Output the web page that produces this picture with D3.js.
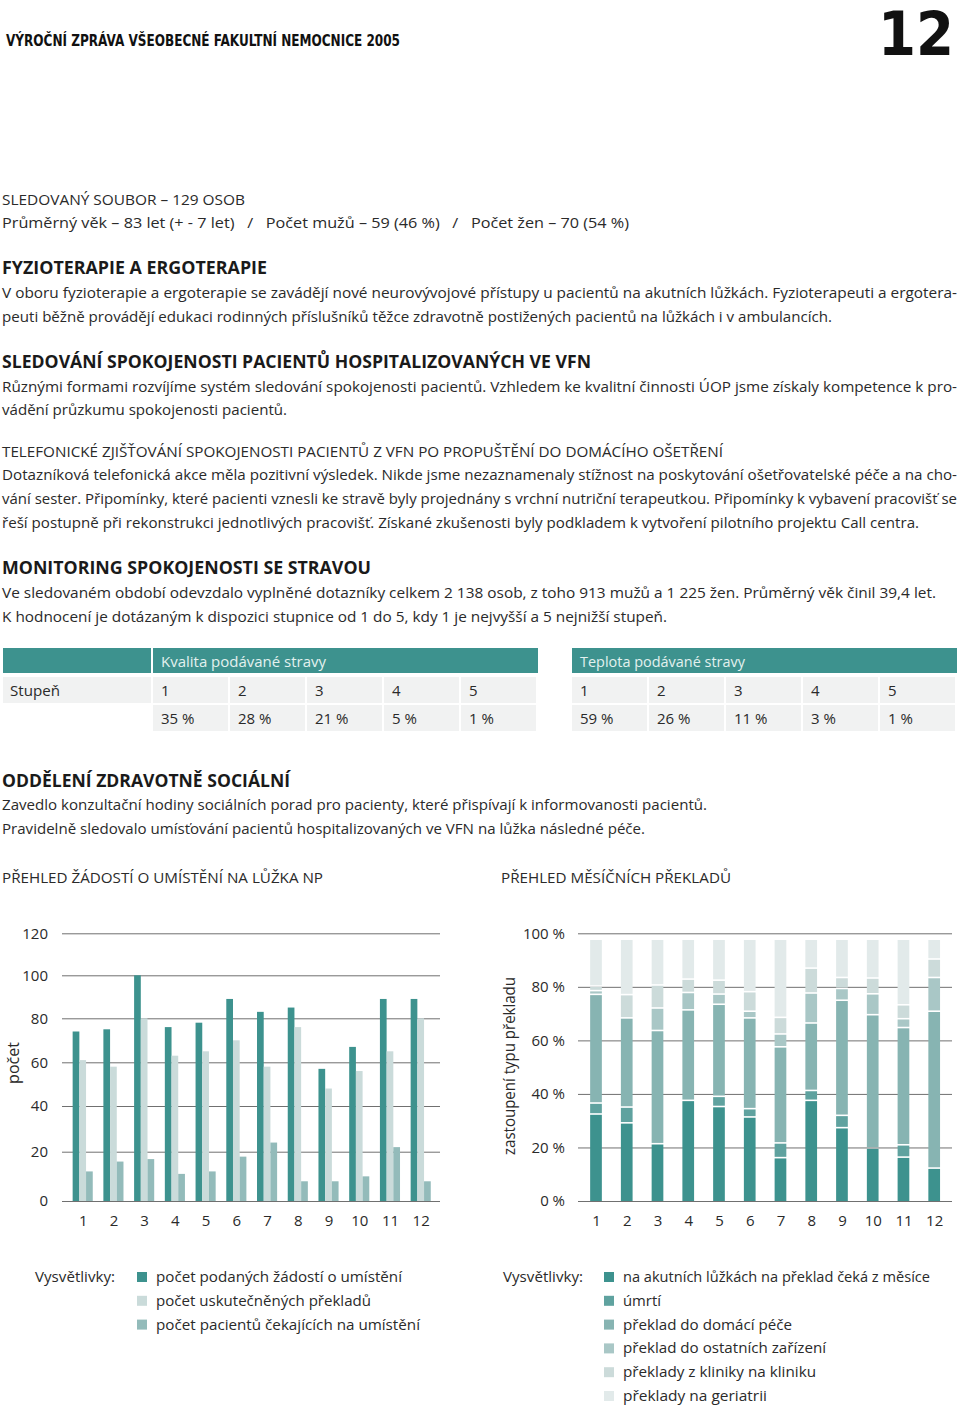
<!DOCTYPE html>
<html>
<head>
<meta charset="utf-8">
<script src="https://cdn.jsdelivr.net/npm/d3@7"></script>
<style>
  body { margin: 0; background: #fff; }
  svg text { font-family: "Open Sans", "Noto Sans", sans-serif; fill: #2a2a2a; }
</style>
</head>
<body>
<svg id="page" width="960" height="1408"></svg>
<script>
// ---- data ----
var months = ["1","2","3","4","5","6","7","8","9","10","11","12"];

// levy graf - pocty
var zadosti   = [74, 75, 100, 76, 78, 89, 83, 85, 57, 67, 89, 89];
var preklady  = [61, 58, 80, 63, 65, 70, 58, 76, 48, 56, 65, 80];
var cekajici  = [12, 16, 17, 11, 12, 18, 24, 8, 8, 10, 22, 8];
var leftTicks = [0, 20, 40, 60, 80, 100, 120];

// pravy graf - podil v %
var akutni    = [32.2, 28.9, 21.1, 37.3, 35.0, 31.1, 15.9, 37.3, 27.1, 19.5, 16.1, 12.0];
var umrti     = [4.1, 5.9, 0, 0, 3.8, 3.1, 5.5, 3.7, 4.6, 0, 4.6, 0];
var domaci    = [40.6, 33.3, 42.3, 33.8, 34.4, 33.9, 35.9, 25.2, 43.0, 49.8, 43.8, 58.6];
var ostatni   = [1.4, 0, 8.4, 6.5, 3.8, 2.5, 4.8, 11.2, 4.4, 7.8, 3.3, 12.6];
var kliniky   = [1.7, 8.7, 8.6, 5.0, 5.2, 7.3, 6.2, 9.3, 4.1, 5.9, 5.2, 6.9];
var geriatrie = [17.5, 20.7, 17.1, 14.9, 15.3, 19.6, 29.2, 10.8, 14.3, 14.5, 24.5, 7.4];
var rightTicks = [0, 20, 40, 60, 80, 100];

// tabulka
var stupne  = ["1", "2", "3", "4", "5"];
var kvalita = ["35 %", "28 %", "21 %", "5 %", "1 %"];
var teplota = ["59 %", "26 %", "11 %", "3 %", "1 %"];

var leftNames  = ["počet podaných žádostí o umístění", "počet uskutečněných překladů", "počet pacientů čekajících na umístění"];
var rightNames = ["na akutních lůžkách na překlad čeká z měsíce", "úmrtí", "překlad do domácí péče",
                  "překlad do ostatních zařízení", "překlady z kliniky na kliniku", "překlady na geriatrii"];

var teal = "#3d928e";
var leftColors  = [teal, "#cadbda", "#93bbba"];
var rightColors = [teal, "#5fa29f", "#87b4b2", "#a9c7c6", "#ccdbda", "#e2eaea"];

var svg = d3.select("#page");

// helper na radek textu, w = cilova sirka z predlohy
function line(x, y, s, o) {
  o = o || {};
  var t = svg.append("text").attr("x", x).attr("y", y).text(s)
    .style("font-size", (o.size || 15) + "px")
    .style("font-weight", o.weight || 400);
  if (o.w) t.attr("textLength", o.w).attr("lengthAdjust", "spacingAndGlyphs");
  if (o.fill) t.style("fill", o.fill);
  if (o.family) t.style("font-family", o.family);
  if (o.anchor) t.attr("text-anchor", o.anchor);
  return t;
}

// ---- hlavicka stranky ----
var condensed = '"Liberation Sans Narrow", "DejaVu Sans Condensed", sans-serif';
line(6, 46, "VÝROČNÍ ZPRÁVA VŠEOBECNÉ FAKULTNÍ NEMOCNICE 2005", {size: 15, weight: 700, w: 394, family: condensed, fill: "#111"});
line(878, 54.5, "12", {size: 60, weight: 700, w: 76, family: condensed, fill: "#111"});

// ---- textove bloky ----
var H = {size: 17, weight: 700, fill: "#1a1a1a"};
line(2, 204.5, "SLEDOVANÝ SOUBOR – 129 OSOB", {w: 243});
svg.append("text").attr("x", 2).attr("y", 228).attr("xml:space", "preserve")
  .attr("textLength", 627).attr("lengthAdjust", "spacingAndGlyphs").style("font-size", "15px")
  .text("Průměrný věk – 83 let (+ - 7 let)   /   Počet mužů – 59 (46 %)   /   Počet žen – 70 (54 %)");

line(2, 274, "FYZIOTERAPIE A ERGOTERAPIE", Object.assign({w: 265}, H));
line(2, 298, "V oboru fyzioterapie a ergoterapie se zavádějí nové neurovývojové přístupy u pacientů na akutních lůžkách. Fyzioterapeuti a ergotera-", {w: 955});
line(2, 322, "peuti běžně provádějí edukaci rodinných příslušníků těžce zdravotně postižených pacientů na lůžkách i v ambulancích.", {w: 830});

line(2, 368, "SLEDOVÁNÍ SPOKOJENOSTI PACIENTŮ HOSPITALIZOVANÝCH VE VFN", Object.assign({w: 589}, H));
line(2, 392, "Různými formami rozvíjíme systém sledování spokojenosti pacientů. Vzhledem ke kvalitní činnosti ÚOP jsme získaly kompetence k pro-", {w: 955});
line(2, 415, "vádění průzkumu spokojenosti pacientů.", {w: 285});

line(2, 456.5, "TELEFONICKÉ ZJIŠŤOVÁNÍ SPOKOJENOSTI PACIENTŮ Z VFN PO PROPUŠTĚNÍ DO DOMÁCÍHO OŠETŘENÍ", {w: 721});
line(2, 480, "Dotazníková telefonická akce měla pozitivní výsledek. Nikde jsme nezaznamenaly stížnost na poskytování ošetřovatelské péče a na cho-", {w: 955});
line(2, 504, "vání sester. Připomínky, které pacienti vznesli ke stravě byly projednány s vrchní nutriční terapeutkou. Připomínky k vybavení pracovišť se", {w: 955});
line(2, 528, "řeší postupně při rekonstrukci jednotlivých pracovišť. Získané zkušenosti byly podkladem k vytvoření pilotního projektu Call centra.", {w: 917});

line(2, 574, "MONITORING SPOKOJENOSTI SE STRAVOU", Object.assign({w: 369}, H));
line(2, 598, "Ve sledovaném období odevzdalo vyplněné dotazníky celkem 2 138 osob, z toho 913 mužů a 1 225 žen. Průměrný věk činil 39,4 let.", {w: 934});
line(2, 622, "K hodnocení je dotázaným k dispozici stupnice od 1 do 5, kdy 1 je nejvyšší a 5 nejnižší stupeň.", {w: 665});

// ---- tabulka ----
var cellBg = "#f1f2f2";
svg.append("rect").attr("x", 3).attr("y", 648).attr("width", 148).attr("height", 25).attr("fill", teal);
svg.append("rect").attr("x", 3).attr("y", 677).attr("width", 148).attr("height", 26).attr("fill", cellBg);
line(10, 695.5, "Stupeň", {w: 50});

function foodTable(x0, title, vals) {
  var cw = 77, gap = 2;
  svg.append("rect").attr("x", x0).attr("y", 648).attr("width", 5 * cw - gap + 2).attr("height", 25).attr("fill", teal);
  line(x0 + 8, 667, title, {fill: "#e3f1ef", w: 165});
  var g = svg.append("g");
  stupne.forEach(function (s, i) {
    var x = x0 + i * cw;
    g.append("rect").attr("x", x).attr("y", 677).attr("width", cw - gap).attr("height", 26).attr("fill", cellBg);
    g.append("rect").attr("x", x).attr("y", 705).attr("width", cw - gap).attr("height", 26).attr("fill", cellBg);
    line(x + 8, 695.5, s);
    line(x + 8, 723.5, vals[i]);
  });
}
foodTable(153, "Kvalita podávané stravy", kvalita);
foodTable(572, "Teplota podávané stravy", teplota);

line(2, 787, "ODDĚLENÍ ZDRAVOTNĚ SOCIÁLNÍ", Object.assign({w: 288}, H));
line(2, 810, "Zavedlo konzultační hodiny sociálních porad pro pacienty, které přispívají k informovanosti pacientů.", {w: 705});
line(2, 834, "Pravidelně sledovalo umísťování pacientů hospitalizovaných ve VFN na lůžka následné péče.", {w: 643});

line(2, 882.5, "PŘEHLED ŽÁDOSTÍ O UMÍSTĚNÍ NA LŮŽKA NP", {w: 321});
line(501, 882.5, "PŘEHLED MĚSÍČNÍCH PŘEKLADŮ", {w: 230});

// ---- levy graf ----
var gridColor = "#707070";
var yL = d3.scaleLinear().domain(leftTicks).range([1201, 1151.7, 1106, 1062.3, 1018.3, 975.3, 933.3]);
var xL = d3.scalePoint().domain(months).range([82.7, 420.7]);
var bw = 6.7;

var axL = svg.append("g").attr("transform", "translate(62,0)")
  .call(d3.axisLeft(yL).tickValues(leftTicks).tickSize(-378).tickPadding(14));
axL.select(".domain").remove();
axL.selectAll(".tick line").attr("stroke", gridColor);
axL.selectAll(".tick text").style("font-size", "15px").attr("fill", "#2a2a2a");

var seriesL = [zadosti, preklady, cekajici];
seriesL.forEach(function (vals, k) {
  svg.append("g").selectAll("rect").data(vals).enter().append("rect")
    .attr("x", function (d, i) { return xL(months[i]) + (k - 1.5) * bw; })
    .attr("y", function (d) { return yL(d); })
    .attr("width", bw)
    .attr("height", function (d) { return yL(0) - yL(d); })
    .attr("fill", leftColors[k]);
});

var bxL = svg.append("g").attr("transform", "translate(0,1201)")
  .call(d3.axisBottom(xL).tickSize(0).tickPadding(14));
bxL.select(".domain").remove();
bxL.selectAll("text").style("font-size", "15px").attr("fill", "#2a2a2a");

svg.append("text").attr("transform", "translate(19,1063) rotate(-90)")
  .attr("text-anchor", "middle").style("font-size", "16px").text("počet");

// ---- pravy graf ----
var yR = d3.scaleLinear().domain([0, 100]).range([1201, 933.3]);
var xR = d3.scalePoint().domain(months).range([596, 934.2]);
var rbw = 11.7;

var axR = svg.append("g").attr("transform", "translate(578,0)")
  .call(d3.axisLeft(yR).tickValues(rightTicks).tickSize(-374).tickPadding(13)
    .tickFormat(function (d) { return d + " %"; }));
axR.select(".domain").remove();
axR.selectAll(".tick line").attr("stroke", gridColor);
axR.selectAll(".tick text").style("font-size", "15px").attr("fill", "#2a2a2a");

var seriesR = [akutni, umrti, domaci, ostatni, kliniky, geriatrie];
var stackData = months.map(function (m, i) {
  var o = {month: m};
  seriesR.forEach(function (s, k) { o["s" + k] = s[i]; });
  return o;
});
var stacked = d3.stack().keys(seriesR.map(function (s, k) { return "s" + k; }))(stackData);

stacked.forEach(function (layer, k) {
  svg.append("g").selectAll("rect").data(layer).enter().append("rect")
    .attr("x", function (d) { return xR(d.data.month) - rbw / 2; })
    .attr("y", function (d) { return yR(d[1]); })
    .attr("width", rbw)
    .attr("height", function (d) {
      var h = yR(d[0]) - yR(d[1]) - (d[0] > 0 ? 1.6 : 0);
      return Math.max(0, h);
    })
    .attr("fill", rightColors[k]);
});

var bxR = svg.append("g").attr("transform", "translate(0,1201)")
  .call(d3.axisBottom(xR).tickSize(0).tickPadding(14));
bxR.select(".domain").remove();
bxR.selectAll("text").style("font-size", "15px").attr("fill", "#2a2a2a");

svg.append("text").attr("transform", "translate(515,1066) rotate(-90)")
  .attr("text-anchor", "middle").style("font-size", "16px")
  .attr("textLength", 178).attr("lengthAdjust", "spacingAndGlyphs")
  .text("zastoupení typu překladu");

// ---- legendy ----
function legend(xLabel, xSw, names, colors, widths) {
  line(xLabel, 1282, "Vysvětlivky:", {w: 80});
  names.forEach(function (n, i) {
    var cy = 1277 + i * 23.8;
    svg.append("rect").attr("x", xSw).attr("y", cy - 5).attr("width", 10).attr("height", 10).attr("fill", colors[i]);
    line(xSw + 19, cy + 5, n, {w: widths[i]});
  });
}
legend(35, 137, leftNames, leftColors, [246, 215, 264]);
legend(503, 604, rightNames, rightColors, [307, 38, 169, 203, 193, 144]);
</script>
</body>
</html>
